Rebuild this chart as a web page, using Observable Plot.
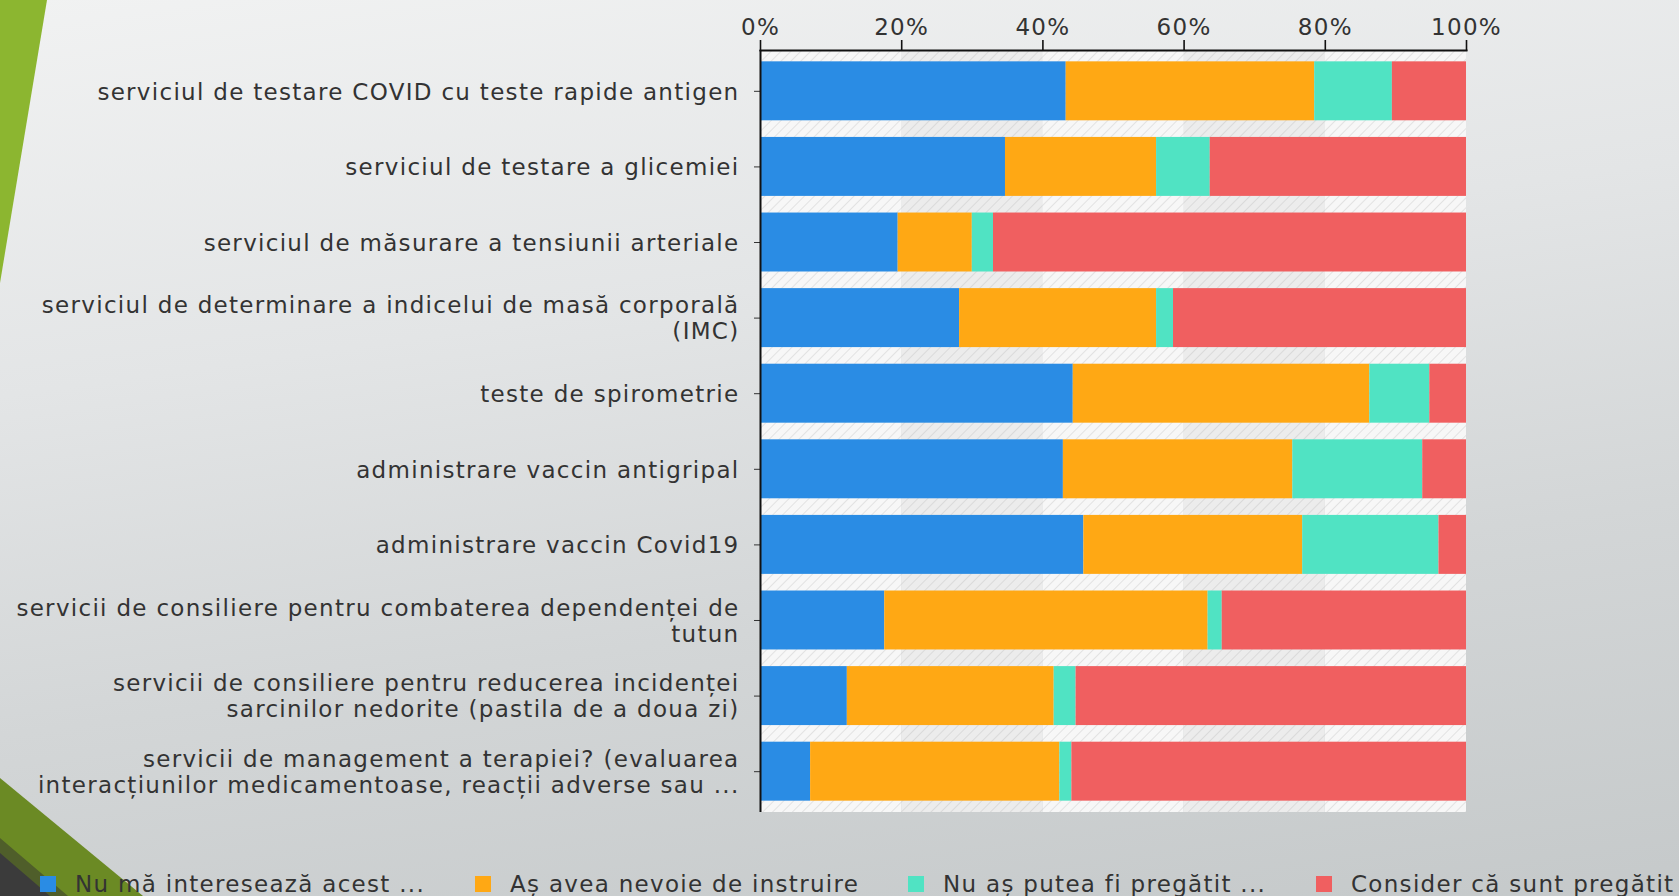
<!DOCTYPE html>
<html>
<head>
<meta charset="utf-8">
<script src="https://cdn.jsdelivr.net/npm/d3@7"></script>
<script src="https://cdn.jsdelivr.net/npm/@observablehq/plot@0.6"></script>
<style>
  html, body { margin: 0; padding: 0; }
  body { width: 1679px; height: 896px; overflow: hidden; }
  #page {
    position: relative; width: 1679px; height: 896px;
    background: linear-gradient(172deg, #f1f2f2 0%, #e3e5e6 35%, #d3d6d7 65%, #c5c9ca 100%);
    font-family: "DejaVu Sans", sans-serif;
  }
  #deco { position: absolute; left: 0; top: 0; }
  #chart { position: absolute; left: 0; top: 0; }
  #legend { position: absolute; left: 0; top: 871px; width: 1679px; height: 24px; font-size: 23px; color: #333; letter-spacing: 1.3px; }
  .li { position: absolute; top: 0; white-space: nowrap; display: flex; align-items: center; }
  .sw { width: 16px; height: 16px; margin-right: 19px; display: inline-block; }
</style>
</head>
<body>
<div id="page">
  <svg id="deco" width="1679" height="896">
    <defs>
      <pattern id="hatchW" patternUnits="userSpaceOnUse" width="7" height="7" patternTransform="rotate(45)">
        <rect width="7" height="7" fill="#f7f7f7"></rect>
        <line x1="0" y1="0" x2="0" y2="7" stroke="#e2e2e2" stroke-width="2"></line>
      </pattern>
      <pattern id="hatchG" patternUnits="userSpaceOnUse" width="7" height="7" patternTransform="rotate(45)">
        <rect width="7" height="7" fill="#ececec"></rect>
        <line x1="0" y1="0" x2="0" y2="7" stroke="#dadada" stroke-width="2"></line>
      </pattern>
    </defs>
    <polygon points="0,0 47,0 0,283" fill="#8cb630"></polygon>
    <polygon points="0,778 143,896 0,896" fill="#6b8a24"></polygon>
    <polygon points="0,838 68,896 0,896" fill="#4f5e2a"></polygon>
    <polygon points="0,853 50,896 0,896" fill="#3b3b3b"></polygon>
  </svg>
  <div id="chart"></div>
  <div id="legend"></div>
</div>
<script>
const categories = [
  "serviciul de testare COVID cu teste rapide antigen",
  "serviciul de testare a glicemiei",
  "serviciul de măsurare a tensiunii arteriale",
  "serviciul de determinare a indicelui de masă corporală\n(IMC)",
  "teste de spirometrie",
  "administrare vaccin antigripal",
  "administrare vaccin Covid19",
  "servicii de consiliere pentru combaterea dependenței de\ntutun",
  "servicii de consiliere pentru reducerea incidenței\nsarcinilor nedorite (pastila de a doua zi)",
  "servicii de management a terapiei? (evaluarea\ninteracțiunilor medicamentoase, reacții adverse sau ..."
];
const seriesNames = [
  "Nu mă interesează acest ...",
  "Aș avea nevoie de instruire",
  "Nu aș putea fi pregătit ...",
  "Consider că sunt pregătit"
];
const seriesColors = ["#2a8ce4", "#ffa814", "#50e3c3", "#f05f60"];
const notInterested = [43.3, 34.7, 19.5, 28.2, 44.3, 42.9, 45.8, 17.6, 12.3, 7.1];
const needTraining  = [35.2, 21.4, 10.5, 27.9, 42.0, 32.5, 31.0, 45.8, 29.3, 35.3];
const cannotPrepare = [11.0, 7.6, 3.0, 2.4, 8.5, 18.4, 19.3, 2.0, 3.1, 1.7];
const prepared      = [10.5, 36.3, 67.0, 41.5, 5.2, 6.2, 3.9, 34.6, 55.3, 55.9];
const xTicks = [0, 20, 40, 60, 80, 100];
const bandsLight = [[0, 20], [40, 60], [80, 100]];
const bandsDark = [[20, 40], [60, 80]];

const seriesValues = [notInterested, needTraining, cannotPrepare, prepared];
const data = [];
categories.forEach((c, i) => {
  seriesNames.forEach((s, j) => {
    data.push({category: c, series: s, value: seriesValues[j][i]});
  });
});

const chart = Plot.plot({
  width: 1679,
  height: 830,
  marginLeft: 760,
  marginRight: 213,
  marginTop: 50,
  marginBottom: 18,
  style: {
    background: "transparent",
    fontFamily: "DejaVu Sans, sans-serif",
    fontSize: "23px",
    color: "#333",
    letterSpacing: "1.3px",
    overflow: "visible"
  },
  x: {domain: [0, 100], axis: null, label: null},
  y: {domain: categories, paddingInner: 0.22, paddingOuter: 0.15, round: false, axis: null, label: null},
  color: {domain: seriesNames, range: seriesColors},
  marks: [
    Plot.rect(bandsLight, {x1: d => d[0], x2: d => d[1], fill: "url(#hatchW)"}),
    Plot.rect(bandsDark, {x1: d => d[0], x2: d => d[1], fill: "url(#hatchG)"}),
    Plot.barX(data, {x: "value", y: "category", fill: "series", order: seriesNames}),
    Plot.axisX(xTicks, {anchor: "top", label: null, tickFormat: d => d + "%", tickSize: 11, tickPadding: 5, stroke: "#111", strokeWidth: 1.6, fill: "#333"}),
    Plot.axisY({anchor: "left", label: null, tickSize: 6, tickPadding: 15, lineHeight: 1.12, stroke: "#333", fill: "#333"}),
    Plot.frame({anchor: "top", stroke: "#111", strokeWidth: 2}),
    Plot.ruleX([0], {stroke: "#111", strokeWidth: 2})
  ]
});
document.getElementById("chart").appendChild(chart);

const legendLefts = [40, 475, 908, 1316];
const legend = document.getElementById("legend");
seriesNames.forEach((s, j) => {
  const item = document.createElement("div");
  item.className = "li";
  item.style.left = legendLefts[j] + "px";
  item.innerHTML = `<span class="sw" style="background:${seriesColors[j]}"></span><span>${s}</span>`;
  legend.appendChild(item);
});
</script>
</body>
</html>
